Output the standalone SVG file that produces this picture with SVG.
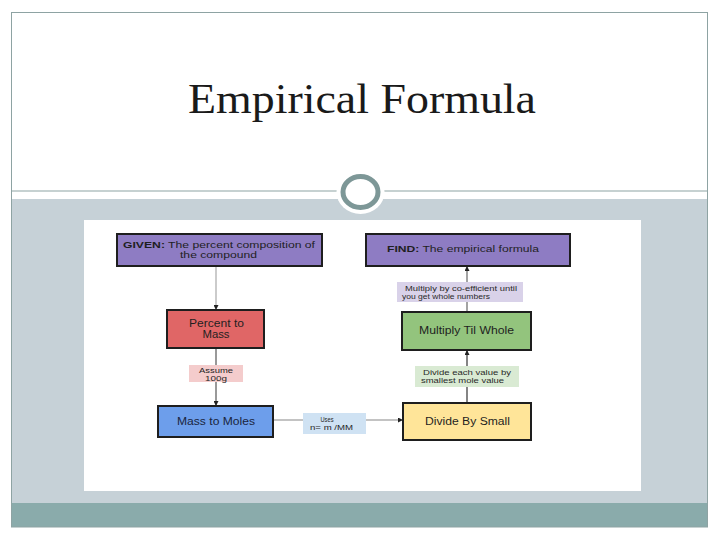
<svg xmlns="http://www.w3.org/2000/svg" width="720" height="540" viewBox="0 0 720 540">
  <style>
    .node{stroke:#1e1e1e;stroke-width:2}
    .lbl{stroke:none}
    .t{font-family:"Liberation Sans",Arial,sans-serif;fill:#1f1f1f;text-anchor:middle}
    .tl{font-family:"Liberation Sans",Arial,sans-serif;fill:#2a2a2a}
    .c{fill:none;stroke-width:1.2}
  </style>
  <defs>
    <marker id="arr" viewBox="0 0 10 10" refX="10" refY="5" markerWidth="5" markerHeight="5" orient="auto" markerUnits="userSpaceOnUse">
      <path d="M0,0 L10,5 L0,10 z" fill="#222"/>
    </marker>
  </defs>

  <!-- slide background -->
  <g id="slide">
    <rect x="0" y="0" width="720" height="540" fill="#ffffff"/>
    <rect x="11.5" y="199" width="696" height="304" fill="#c6d1d7"/>
    <rect x="11.5" y="503" width="696" height="24" fill="#8aabab"/>
    <rect x="11.5" y="12.5" width="696" height="514.5" fill="none" stroke="#8ea3a3" stroke-width="1"/>
    <line x1="11.5" y1="191" x2="708" y2="191" stroke="#8ea3a3" stroke-width="1.2"/>
    <ellipse cx="360.5" cy="192" rx="24" ry="22" fill="#ffffff"/>
    <ellipse cx="360.5" cy="192" rx="17.5" ry="15.5" fill="#ffffff" stroke="#7d9797" stroke-width="5"/>
    <text x="362" y="113" font-family="'Liberation Serif','Times New Roman',serif" font-size="42" fill="#1a1a1a" text-anchor="middle" textLength="348" lengthAdjust="spacingAndGlyphs">Empirical Formula</text>
    <rect x="84" y="220" width="557" height="271" fill="#ffffff"/>
  </g>

  <!-- connectors -->
  <g id="connectors">
    <line class="c" x1="216" y1="266" x2="216" y2="310" stroke="#a8a8a8" marker-end="url(#arr)"/>
    <line class="c" x1="216" y1="348" x2="216" y2="406" stroke="#555" marker-end="url(#arr)"/>
    <line class="c" x1="273" y1="420" x2="403" y2="420" stroke="#888" marker-end="url(#arr)"/>
    <line class="c" x1="467" y1="403" x2="467" y2="350" stroke="#333" marker-end="url(#arr)"/>
    <line class="c" x1="467" y1="312" x2="467" y2="266" stroke="#666" marker-end="url(#arr)"/>
  </g>

  <!-- nodes -->
  <g id="given">
    <rect class="node" x="117" y="234" width="205" height="32" fill="#8e7cc3"/>
    <text class="t" x="219" y="247.5" font-size="9.5" textLength="192" lengthAdjust="spacingAndGlyphs"><tspan font-weight="bold">GIVEN:</tspan> The percent composition of</text>
    <text class="t" x="218.5" y="258" font-size="9.5" textLength="77" lengthAdjust="spacingAndGlyphs">the compound</text>
  </g>
  <g id="find">
    <rect class="node" x="366" y="234" width="204" height="32" fill="#8e7cc3"/>
    <text class="t" x="463" y="252" font-size="9.5" textLength="152" lengthAdjust="spacingAndGlyphs"><tspan font-weight="bold">FIND:</tspan> The empirical formula</text>
  </g>
  <g id="percent-to-mass">
    <rect class="node" x="167" y="310" width="97" height="38" fill="#e06666"/>
    <text class="t" x="216.5" y="327" font-size="10" textLength="55" lengthAdjust="spacingAndGlyphs">Percent to</text>
    <text class="t" x="216" y="337.5" font-size="10" textLength="27" lengthAdjust="spacingAndGlyphs">Mass</text>
  </g>
  <g id="assume-label">
    <rect class="lbl" x="189" y="365" width="54" height="17" fill="#f4cccc"/>
    <text class="t" x="216" y="372.5" font-size="7.5" textLength="34" lengthAdjust="spacingAndGlyphs">Assume</text>
    <text class="t" x="216" y="380.5" font-size="7.5" textLength="22" lengthAdjust="spacingAndGlyphs">100g</text>
  </g>
  <g id="mass-to-moles">
    <rect class="node" x="158" y="406" width="115" height="31" fill="#6d9eeb"/>
    <text class="t" x="216" y="424.5" font-size="10" textLength="78" lengthAdjust="spacingAndGlyphs" style="fill:#1a2540">Mass to Moles</text>
  </g>
  <g id="uses-label">
    <rect class="lbl" x="303" y="413" width="63" height="21" fill="#cfe2f3"/>
    <text class="t" x="327" y="421.5" font-size="7" textLength="13" lengthAdjust="spacingAndGlyphs">Uses</text>
    <text class="t" x="331.5" y="429.5" font-size="7.5" textLength="43" lengthAdjust="spacingAndGlyphs">n= m /MM</text>
  </g>
  <g id="divide-by-small">
    <rect class="node" x="403" y="403" width="128" height="37" fill="#ffe599"/>
    <text class="t" x="467.5" y="425" font-size="10" textLength="85" lengthAdjust="spacingAndGlyphs">Divide By Small</text>
  </g>
  <g id="divide-label">
    <rect class="lbl" x="415" y="366" width="104" height="21" fill="#d9ead3"/>
    <text class="tl" x="423" y="375" font-size="7.5" textLength="88" lengthAdjust="spacingAndGlyphs">Divide each value by</text>
    <text class="tl" x="421" y="383" font-size="7.5" textLength="83" lengthAdjust="spacingAndGlyphs">smallest mole value</text>
  </g>
  <g id="multiply-til-whole">
    <rect class="node" x="402" y="312" width="129" height="38" fill="#93c47d"/>
    <text class="t" x="466.5" y="333.5" font-size="10" textLength="95" lengthAdjust="spacingAndGlyphs">Multiply Til Whole</text>
  </g>
  <g id="multiply-label">
    <rect class="lbl" x="397" y="282" width="126" height="20" fill="#d9d2e9"/>
    <text class="tl" x="405" y="290.5" font-size="7.5" textLength="112" lengthAdjust="spacingAndGlyphs">Multiply by co-efficient until</text>
    <text class="tl" x="402" y="298.5" font-size="7.5" textLength="88" lengthAdjust="spacingAndGlyphs">you get whole numbers</text>
  </g>
</svg>
